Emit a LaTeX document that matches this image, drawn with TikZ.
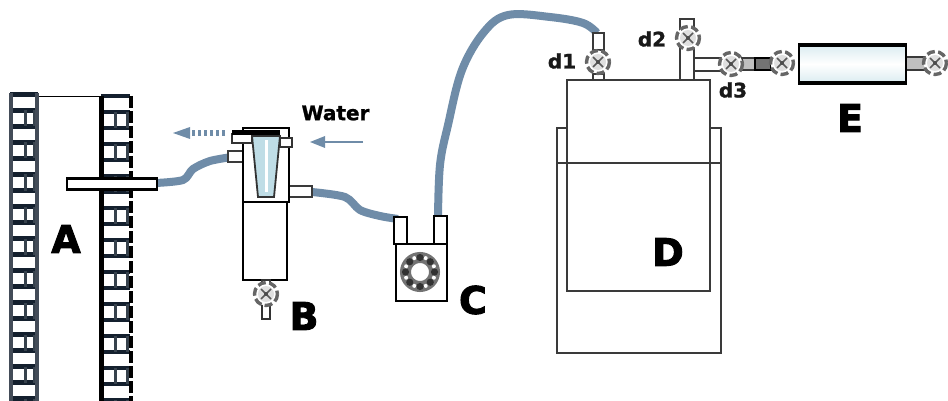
\documentclass[tikz,border=0pt]{standalone}
\usepackage{fontspec}
\setmainfont{DejaVu Sans}
\newfontfamily\heavyfont[FakeBold=2.5]{DejaVu Sans Bold}
\newfontfamily\semifont[FakeBold=1.2]{DejaVu Sans Bold}
\definecolor{hosec}{HTML}{6F8CA8}
\definecolor{brickc}{HTML}{14202E}
\definecolor{linec}{HTML}{3A3A3A}
\definecolor{conec}{HTML}{BFDDE6}
\tikzset{
  hoseline/.style={hosec,line width=8pt,line join=round,line cap=butt},
  part/.style={draw=linec,line width=2pt,fill=white},
  heavy/.style={draw=black,line width=2.4pt,fill=white},
  biglabel/.style={font=\fontsize{38}{38}\selectfont\heavyfont,text=black,inner sep=0pt},
  smalllabel/.style={font=\fontsize{20}{20}\selectfont\semifont,text=black!90,inner sep=0pt},
  flowarrow/.style={hosec,line width=2.6pt},
  valve/.pic={
    \draw[line width=3.4pt,draw=black!60,dash pattern=on 8pt off 3.4pt,fill=white] (0,0) circle (11.5);
    \fill[black!12] (0,0) circle (8);
    \draw[black!65,line width=1.6pt] (-5,-5) -- (5,5) (-5,5) -- (5,-5);
    \fill[black!70] (0,0) circle (2);
  }
}
\begin{document}
\begin{tikzpicture}[x=1pt,y=-1pt]
\useasboundingbox (0,0) rectangle (948,401);
% ---- A: the two brick walls
\fill[white] (0,0) rectangle (948,401);
\draw[black,line width=.9pt] (39,96) -- (100,96);
\foreach \k in {0,...,19} {
  \draw[brickc,line width=4.6pt] (10,94.5+16*\k) -- (38,94.5+16*\k);
}
\foreach \k in {1,3,...,19} {
  \draw[brickc!85,line width=3pt] (25,94.5+16*\k) -- (25,110.5+16*\k) (34,94.5+16*\k) -- (34,110.5+16*\k);
}
\draw[brickc!80,line width=3.6pt] (11,93) -- (11,401) (37,93) -- (37,401);
\foreach \k in {0,...,19} {
  \draw[brickc,line width=4.6pt] (101,96+16*\k) -- (130,96+16*\k);
}
\foreach \k in {1,3,...,19} {
  \draw[brickc!85,line width=3pt] (115,96+16*\k) -- (115,112+16*\k) (127,96+16*\k) -- (127,112+16*\k);
}
\draw[black,line width=5pt] (101,96) -- (101,401);
\draw[black,line width=3.5pt,dash pattern=on 12pt off 3pt] (131,96) -- (131,401);
% ---- hoses
\coordinate (hoseAa) at (156,183);
\coordinate (hoseAb) at (232,157);
\coordinate (hoseBa) at (312,192);
\coordinate (hoseBb) at (398,219);
\coordinate (hoseCa) at (438,218);
\coordinate (hoseCb) at (597,33);
\draw[hoseline] plot[smooth,tension=.5] coordinates {(hoseAa) (183,180) (193,169) (210,161) (hoseAb)};
\draw[hoseline] plot[smooth,tension=.5] coordinates {(hoseBa) (345,197) (360,210) (380,216) (hoseBb)};
\draw[hoseline] plot[smooth,tension=.6] coordinates {(hoseCa) (440,165) (448,125) (462,70) (484,32) (508,15) (550,17) (583,23) (hoseCb)};
% pipe through the wall
\node[part,draw=black,line width=2.2pt,minimum width=90pt,minimum height=11pt,inner sep=0pt] (pipeA) at (112,184) {};
% ---- B
\draw[part,line width=2pt] (228,151) rectangle (243,162);
\draw[part,line width=2pt] (289,186) rectangle (312,197);
\draw[heavy] (243,128) rectangle (289,202);
\draw[heavy] (243,202) rectangle (287,280);
\draw[black!80,line width=1.4pt,fill=white] (232,134) rectangle (252,143);
\draw[black!80,line width=1.4pt,fill=white] (280,138) rectangle (292,147);
\fill[black] (232,130) rectangle (280,135);
\draw[black!80,line width=1.8pt,fill=conec] (252,136) -- (280,136) -- (274,197) -- (258,197) -- cycle;
\draw[white,line width=3pt] (266,140) -- (266,192);
\draw[line width=2pt,black!80,fill=white] (262,280) rectangle (270,287);
\draw[line width=2pt,black!80,fill=white] (262,302) rectangle (270,319);
\pic at (266,294) {valve};
% ---- flow arrows
\draw[flowarrow] (363,142) -- (322,142);
\fill[hosec] (310,142) -- (325,136) -- (325,148) -- cycle;
\draw[flowarrow,line width=6pt,dash pattern=on 3pt off 3pt] (225,133) -- (186,133);
\fill[hosec] (173,133) -- (190,127) -- (190,139) -- cycle;
% ---- C
\draw[part,draw=black] (396,244) rectangle (447,301);
\draw[part,draw=black] (394,217) rectangle (407,244);
\draw[part,draw=black] (434,216) rectangle (447,244);
\draw[black!55,line width=11pt] (420,272) circle (14.5);
\foreach \a in {0,45,...,315} {
  \fill[black!80] (420,272) ++(\a:14.5) circle (3.6);
  \fill[white] (420,272) ++(\a+22.5:15) circle (2);
}
\fill[white] (420,272) circle (7.5);
% ---- D
\draw[linec,line width=2pt] (567,128) -- (557,128) -- (557,353) -- (721,353) -- (721,128) -- (710,128);
\draw[part] (567,80) rectangle (710,291);
\draw[linec,line width=1.6pt] (557,163) -- (721,163);
% ---- d1, d2, d3
\draw[heavy,draw=linec] (593,33) rectangle (604,50);
\draw[heavy,draw=linec] (593,74) rectangle (604,80);
\pic at (598,62) {valve};
\draw[heavy,draw=linec] (680,19) rectangle (694,30);
\draw[heavy,draw=linec] (680,46) rectangle (694,80);
\pic at (688,38) {valve};
\draw[heavy,draw=linec] (694,58) rectangle (722,71);
\draw[heavy,draw=linec,fill=black!25] (742,58) rectangle (755,70);
\draw[heavy,draw=black,fill=black!55] (755,58) rectangle (771,70);
\pic at (731,64) {valve};
\pic at (782,63) {valve};
% ---- E
\draw[heavy,draw=linec,fill=black!25] (906,57) rectangle (925,70);
\draw[black,line width=1.5pt,top color=conec!60,bottom color=conec!60,middle color=white] (799,44) rectangle (906,84);
\fill[black] (799,43) rectangle (906,47);
\fill[black] (799,81) rectangle (906,85);
\pic at (935,63) {valve};
% ---- labels
\node[biglabel] (labA) at (66,239) {A};
\node[biglabel] (labB) at (304,316) {B};
\node[biglabel] (labC) at (473,300) {C};
\node[biglabel] (labD) at (668,252) {D};
\node[biglabel] (labE) at (850,118) {E};
\node[smalllabel] (labd1) at (562,61) {d1};
\node[smalllabel] (labd2) at (652,39) {d2};
\node[smalllabel] (labd3) at (733,90) {d3};
\node[smalllabel,text=black] (labW) at (335.5,113) {Water};
\end{tikzpicture}
\end{document}
